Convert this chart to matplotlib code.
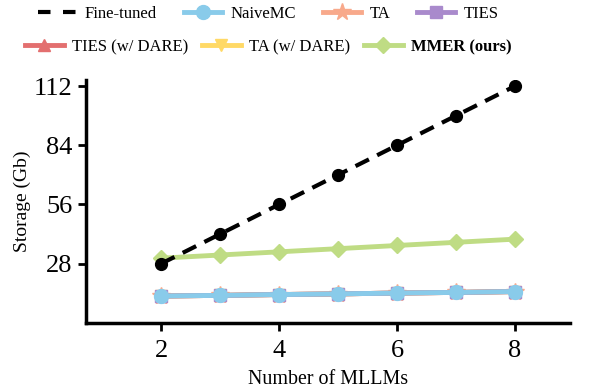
import numpy as np
import matplotlib
matplotlib.use("Agg")
import matplotlib.pyplot as plt
from matplotlib.lines import Line2D

plt.rcParams['font.family'] = ['Liberation Serif', 'DejaVu Serif']

n_models = [2, 3, 4, 5, 6, 7, 8]
fine_tuned = [28, 42, 56, 70, 84, 98, 112]
naive_mc = [12.7, 13.0, 13.4, 13.7, 14.1, 14.4, 14.8]
ta = [12.7, 13.0, 13.4, 13.7, 14.1, 14.4, 14.8]
ties = [12.7, 13.0, 13.4, 13.7, 14.1, 14.4, 14.8]
ties_dare = [12.7, 13.0, 13.4, 13.7, 14.1, 14.4, 14.8]
ta_dare = [12.7, 13.0, 13.4, 13.7, 14.1, 14.4, 14.8]
mmer = [30.6, 32.1, 33.6, 35.1, 36.6, 38.1, 39.6]
yticks = [28, 56, 84, 112]
xticks = [2, 4, 6, 8]

fig = plt.figure(figsize=(6.03, 3.89), dpi=100)
ax = fig.add_axes([0.143, 0.17, 0.802, 0.625])

lw = 3.5
ax.plot(n_models, fine_tuned, color='black', ls='--', lw=3, marker='o', ms=8.5,
        dashes=(3.6, 2.2), zorder=5)
h1, = ax.plot(n_models, naive_mc, color='#89CBEA', lw=lw, marker='o', ms=10, label='NaiveMC', zorder=4)
h2, = ax.plot(n_models, ta, color='#F8A98B', lw=lw, marker='*', ms=13, label='TA', zorder=1)
h3, = ax.plot(n_models, ties, color='#A98ACC', lw=lw, marker='s', ms=9, label='TIES', zorder=2)
h4, = ax.plot(n_models, ties_dare, color='#E36F6F', lw=lw, marker='^', ms=9, label='TIES (w/ DARE)', zorder=1)
h5, = ax.plot(n_models, ta_dare, color='#FFD966', lw=lw, marker='v', ms=9, label='TA (w/ DARE)', zorder=1)
h6, = ax.plot(n_models, mmer, color='#BFDC84', lw=lw, marker='D', ms=8, label='MMER (ours)', zorder=3)
h0 = Line2D([], [], color='black', lw=3, ls='--', dashes=(3, 3), label='Fine-tuned')

ax.set_xlim(0.73, 8.93)
ax.set_ylim(0, 115)
ax.set_xticks(xticks)
ax.set_yticks(yticks)
ax.tick_params(labelsize=19, width=2, length=6)
ax.tick_params(axis='x', pad=6)
ax.tick_params(axis='y', pad=4)
ax.set_xlabel('Number of MLLMs', fontsize=14.4, labelpad=6)
ax.set_ylabel('Storage (Gb)', fontsize=14, labelpad=2)
for s in ['top', 'right']:
    ax.spines[s].set_visible(False)
for s in ['left', 'bottom']:
    ax.spines[s].set_linewidth(2.5)

# two separately centred legend rows
leg_kw = dict(loc='center', frameon=False, fontsize=12, handlelength=2.3,
              handletextpad=0.5, borderpad=0, borderaxespad=0)
leg1 = fig.legend(handles=[h0, h1, h2, h3], ncol=4, columnspacing=1.6,
                  bbox_to_anchor=(0.445, 1 - 14 / 389), **leg_kw)
leg2 = fig.legend(handles=[h4, h5, h6], ncol=3, columnspacing=0.85,
                  bbox_to_anchor=(0.445, 1 - 47 / 389), **leg_kw)
for t in leg2.get_texts():
    if t.get_text() == 'MMER (ours)':
        t.set_fontweight('bold')

fig.savefig('out.png', dpi=100)
